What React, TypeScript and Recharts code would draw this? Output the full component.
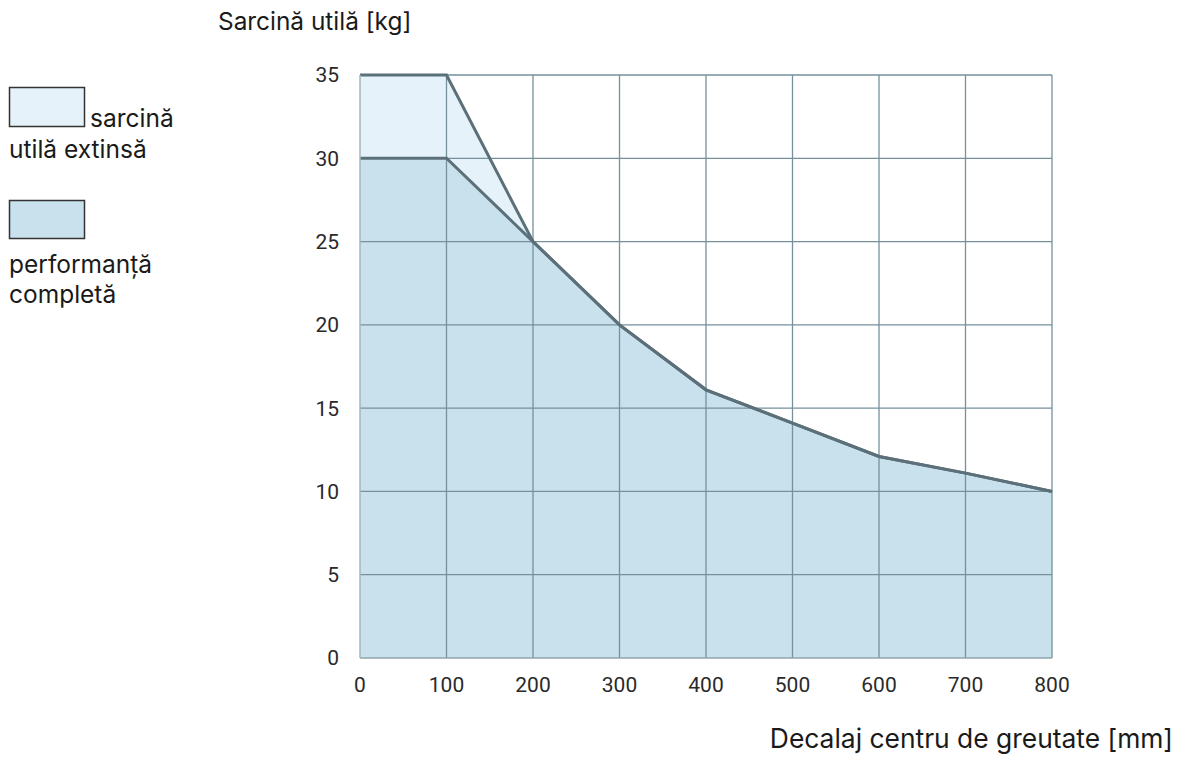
import React from "react";
import { ComposedChart, Area, Line, XAxis, YAxis, ReferenceLine } from "recharts";

const offsets = [0, 100, 200, 300, 400, 500, 600, 700, 800];
const extendedLoad = [35, 35, 25, 20, 16.1, 14.1, 12.1, 11.1, 10];
const fullLoad = [30, 30, 25, 20, 16.1, 14.1, 12.1, 11.1, 10];
const xTicks = [0, 100, 200, 300, 400, 500, 600, 700, 800];
const yTicks = [0, 5, 10, 15, 20, 25, 30, 35];
const vGrid = [100, 200, 300, 400, 500, 600, 700, 800];
const hGrid = [5, 10, 15, 20, 25, 30, 35];

const yTitle = "Sarcină utilă [kg]";
const xTitle = "Decalaj centru de greutate [mm]";
const legendExt = ["sarcină", "utilă extinsă"];
const legendFull = ["performanță", "completă"];

const data = offsets.map((x, i) => ({ x, ext: extendedLoad[i], full: fullLoad[i] }));

const LIGHT = "#e6f2f9";
const DARK = "#c9e1ed";
const LINE = "#5b7079";
const GRID = "#75919c";
const TICK_FONT = "Roboto, 'Noto Sans', sans-serif";
const TEXT_FONT = "Inter, 'Noto Sans', sans-serif";

export default function App() {
  return (
    <div style={{ position: "absolute", top: 0, left: 0, width: 1179, height: 767, background: "#fff", overflow: "hidden" }}>
      <ComposedChart width={1179} height={767} data={data} margin={{ top: 75, right: 127, bottom: 79, left: 320 }}>
        <XAxis
          dataKey="x"
          type="number"
          domain={[0, 800]}
          ticks={xTicks}
          tickLine={false}
          axisLine={{ stroke: "#8fa4ac", strokeWidth: 1.5 }}
          height={30}
          tickMargin={13}
          tick={{ fill: "#2a2a2a", fontSize: 21, fontFamily: TICK_FONT }}
        />
        <YAxis
          type="number"
          domain={[0, 35]}
          ticks={yTicks}
          tickLine={false}
          axisLine={{ stroke: "#a3b6bd", strokeWidth: 1.5 }}
          width={40}
          tickMargin={15}
          tick={{ fill: "#2a2a2a", fontSize: 21, fontFamily: TICK_FONT }}
        />
        <Area dataKey="ext" type="linear" fill={LIGHT} fillOpacity={1} stroke="none" isAnimationActive={false} />
        <Area dataKey="full" type="linear" fill={DARK} fillOpacity={1} stroke="none" isAnimationActive={false} />
        {vGrid.map((v) => (
          <ReferenceLine key={"v" + v} x={v} stroke={GRID} strokeWidth={1.3} />
        ))}
        {hGrid.map((h) => (
          <ReferenceLine key={"h" + h} y={h} stroke={GRID} strokeWidth={1.3} />
        ))}
        <Line dataKey="ext" type="linear" stroke={LINE} strokeWidth={3} dot={false} isAnimationActive={false} />
        <Line dataKey="full" type="linear" stroke={LINE} strokeWidth={3} dot={false} isAnimationActive={false} />
      </ComposedChart>

      <svg width={1179} height={767} style={{ position: "absolute", left: 0, top: 0, pointerEvents: "none" }}>
        <g fontFamily={TEXT_FONT} fill="#1a1a1a">
          <text x={218} y={30} fontSize={24.4}>{yTitle}</text>
          <text x={1173} y={748} fontSize={26.4} textAnchor="end">{xTitle}</text>

          <rect x={9.5} y={87.5} width={75} height={39} fill={LIGHT} stroke="#333" strokeWidth={1.5} />
          <text x={90} y={127} fontSize={24.5}>{legendExt[0]}</text>
          <text x={9} y={158} fontSize={24.5}>{legendExt[1]}</text>

          <rect x={9.5} y={200.5} width={75} height={38} fill={DARK} stroke="#333" strokeWidth={1.5} />
          <text x={9} y={273} fontSize={24.5}>{legendFull[0]}</text>
          <text x={9} y={303} fontSize={24.5}>{legendFull[1]}</text>
        </g>
      </svg>
    </div>
  );
}
